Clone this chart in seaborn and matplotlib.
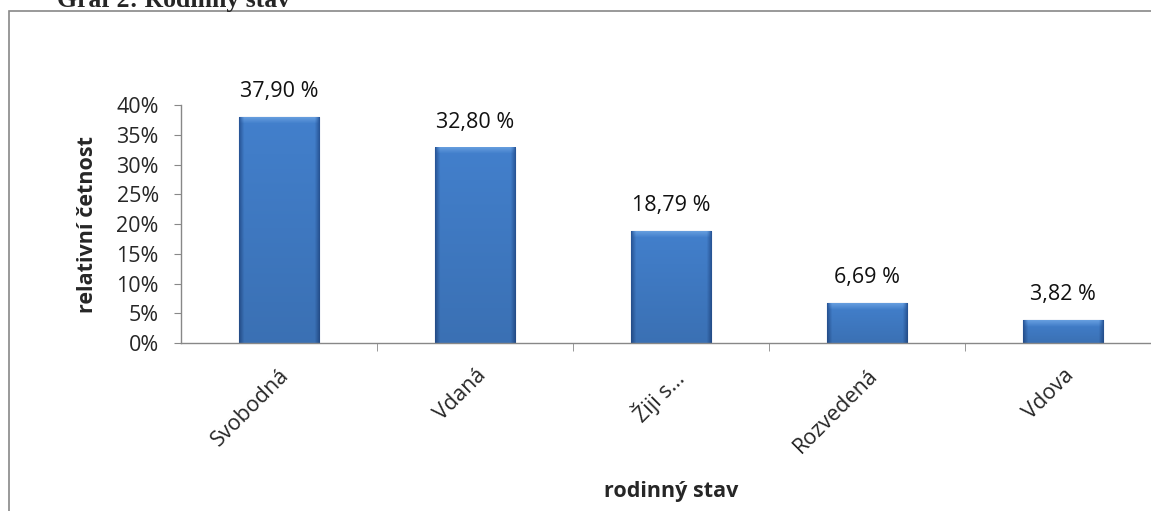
import matplotlib
matplotlib.use('Agg')
import matplotlib.pyplot as plt
from matplotlib.patches import Rectangle
import numpy as np
import pandas as pd
import seaborn as sns

categories = ['Svobodná', 'Vdaná', 'Žiji s…', 'Rozvedená', 'Vdova']
values = [37.90, 32.80, 18.79, 6.69, 3.82]
value_labels = ['37,90 %', '32,80 %', '18,79 %', '6,69 %', '3,82 %']
y_ticks = [0, 5, 10, 15, 20, 25, 30, 35, 40]

sns.set_style('white')
plt.rcParams['font.family'] = ['Open Sans', 'DejaVu Sans']

df = pd.DataFrame({'stav': categories, 'pct': values})

W, H = 1151, 511
fig = plt.figure(figsize=(W / 100, H / 100), dpi=100)
ax = fig.add_axes([181 / W, 168 / H, 980 / W, 238 / H])

sns.barplot(data=df, x='stav', y='pct', ax=ax, color='#3b74c2',
            width=0.41, edgecolor='#2b5a99', linewidth=0.8, saturation=1)


def bevel(h_px, w_px=80):
    # rough excel-like bevel: darker sides, light top edge
    mid = np.array([0.26, 0.50, 0.80])
    side = np.array([0.16, 0.34, 0.60])
    top = np.array([0.45, 0.66, 0.90])
    xs = np.linspace(0, 1, w_px)
    hx = np.clip(np.minimum(xs, 1 - xs) / 0.06, 0, 1)[None, :, None]
    ys = np.arange(h_px)[:, None, None]
    img = side + (mid - side) * hx
    img = np.broadcast_to(img, (h_px, w_px, 3)).copy()
    shade = 1 - 0.12 * (ys / max(h_px, 1))
    img = img * shade
    topband = np.clip(1 - ys / 6.0, 0, 1) * hx
    img = img * (1 - topband * 0.7) + top * topband * 0.7
    return np.clip(img, 0, 1)


px_per_unit = 238 / 40
for p in list(ax.patches):
    x0, w, h = p.get_x(), p.get_width(), p.get_height()
    img = bevel(max(int(h * px_per_unit), 2))
    ax.imshow(img, extent=[x0, x0 + w, 0, h], aspect='auto', origin='upper',
              zorder=p.get_zorder() + 0.1, interpolation='bilinear')

for i, (v, lab) in enumerate(zip(values, value_labels)):
    ax.annotate(lab, (i, v), xytext=(0, 11), textcoords='offset points',
                ha='center', va='bottom', fontsize=15.5, color='#111111')

ax.set_xlim(-0.5, len(categories) - 0.5)
ax.set_ylim(0, 40)
ax.set_yticks(y_ticks)
ax.set_yticklabels([f'{t}%' for t in y_ticks], fontsize=15.5)
ax.tick_params(axis='y', length=5, color='#888888', pad=11, direction='out', left=True)
ax.set_xticks(range(len(categories)))
ax.set_xticklabels(categories, rotation=45, ha='right', rotation_mode='anchor', fontsize=15.5)
ax.tick_params(axis='x', length=0, pad=16)
ax.set_xticks([i + 0.5 for i in range(len(categories) - 1)], minor=True)
ax.tick_params(axis='x', which='minor', length=6, color='#888888', direction='out', bottom=True)

for s in ['top', 'right']:
    ax.spines[s].set_visible(False)
for s in ['left', 'bottom']:
    ax.spines[s].set_color('#888888')
    ax.spines[s].set_linewidth(1.0)

ax.set_ylabel('relativní četnost', fontsize=15.5, fontweight='bold')
ax.yaxis.set_label_coords(-83 / 980, 0.5)
ax.set_xlabel('rodinný stav', fontsize=15.5, fontweight='bold')
ax.xaxis.set_label_coords(0.5, -138 / 238)

fig.patches.append(Rectangle((9 / W, -0.05), 1.1, 1 - 11 / H + 0.05,
                             transform=fig.transFigure, fill=False,
                             edgecolor='#888888', linewidth=1.2))
fig.text(57 / W, 1.0, 'Graf 2: Rodinný stav', family='Liberation Serif',
         fontweight='bold', fontsize=18.5, ha='left', va='center')

fig.savefig('out.png', dpi=100)
